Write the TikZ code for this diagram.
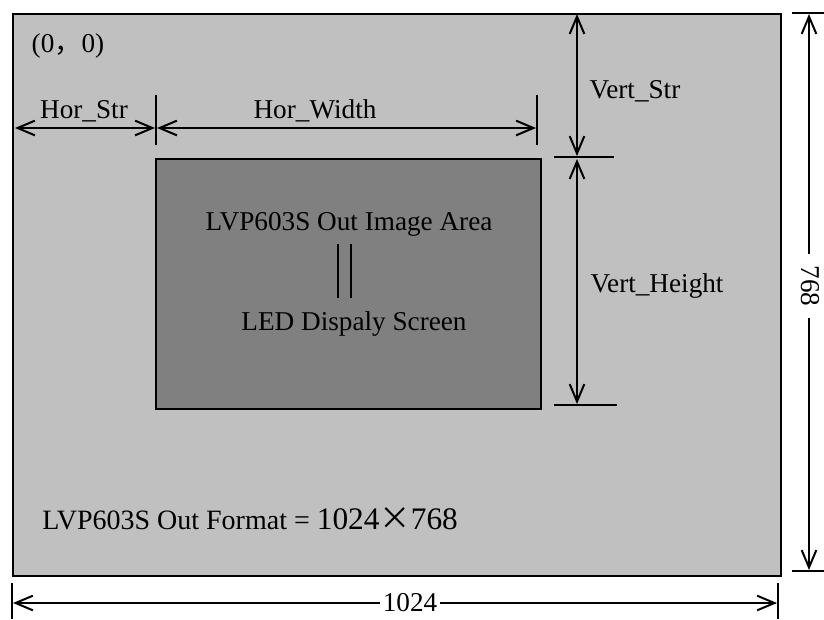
\documentclass[tikz,border=0pt]{standalone}
\usepackage{fontspec}
\setmainfont{Liberation Serif}
\newfontfamily\cjk{Noto Sans CJK SC}
\usetikzlibrary{arrows.meta}
\definecolor{outerfill}{HTML}{C0C0C0}
\definecolor{innerfill}{HTML}{808080}
\begin{document}
\begin{tikzpicture}[x=0.75pt,y=-0.75pt,
  lbl/.style={font=\fontsize{20.4}{24}\selectfont, inner sep=0pt, anchor=base, text=black},
  dimline/.style={line width=1.5pt, {Straight Barb[length=13pt,width=11pt,line width=1.5pt]}-{Straight Barb[length=13pt,width=11pt,line width=1.5pt]}},
  tickline/.style={line width=1.2pt},
  cut/.style={fill=white, inner xsep=4pt, inner ysep=1pt}]
\useasboundingbox (0,0) rectangle (824,619);
% outer area
\node[draw=black, line width=1.5pt, fill=outerfill, minimum width=768*0.75pt, minimum height=562*0.75pt, inner sep=0pt, anchor=north west] (outer) at (12,13) {};
% inner area
\node[draw=black, line width=1.2pt, fill=innerfill, minimum width=385*0.75pt, minimum height=250*0.75pt, inner sep=0pt, anchor=north west] (inner) at (155,158) {};

% texts
\node[lbl] (origin) at (68,52) {(0{\cjk ，}0)};
\node[lbl] (horstr) at (84,118) {Hor\_Str};
\node[lbl] (horwidth) at (315,118) {Hor\_Width};
\node[lbl] (vertstr) at (635,98) {Vert\_Str};
\node[lbl] (vertheight) at (657,292) {Vert\_Height};
\node[lbl] (area) at (349,230) {LVP603S Out Image Area};
\node[lbl] (led) at (354,330) {LED Dispaly Screen};
\node[lbl, anchor=base west, font=\fontsize{21}{24}\selectfont] (format) at (42,529) {LVP603S Out Format = {\fontsize{23.5}{26}\selectfont 1024{\cjk ×}768}};

% equivalence sign
\coordinate (eqa1) at (338,244); \coordinate (eqa2) at (338,298);
\coordinate (eqb1) at (351,244); \coordinate (eqb2) at (351,298);
\draw[line width=1.1pt] (eqa1) -- (eqa2);
\draw[line width=1.1pt] (eqb1) -- (eqb2);

% horizontal dimension ticks
\coordinate (t1a) at (156,95); \coordinate (t1b) at (156,145);
\coordinate (t2a) at (537,95); \coordinate (t2b) at (537,145);
\draw[tickline] (t1a) -- (t1b);
\draw[tickline] (t2a) -- (t2b);
\coordinate (hs1) at (15,128); \coordinate (hs2) at (155,128);
\coordinate (hw1) at (157,128); \coordinate (hw2) at (536,128);
\draw[dimline] (hs1) -- (hs2);
\draw[dimline] (hw1) -- (hw2);

% vertical dimension ticks
\coordinate (v1a) at (554,157); \coordinate (v1b) at (614,157);
\coordinate (v2a) at (554,405); \coordinate (v2b) at (617,405);
\draw[tickline] (v1a) -- (v1b);
\draw[tickline] (v2a) -- (v2b);
\coordinate (vs1) at (577,14); \coordinate (vs2) at (577,156);
\coordinate (vh1) at (577,159); \coordinate (vh2) at (577,404);
\draw[dimline] (vs1) -- (vs2);
\draw[dimline] (vh1) -- (vh2);

% total height 768
\coordinate (r1a) at (792,13); \coordinate (r1b) at (824,13);
\coordinate (r2a) at (792,571); \coordinate (r2b) at (824,571);
\draw[tickline] (r1a) -- (r1b);
\draw[tickline] (r2a) -- (r2b);
\coordinate (rt) at (809,14); \coordinate (rb) at (809,570);
\draw[dimline] (rt) -- (rb);
\node[lbl, cut, anchor=center, rotate=-90, inner xsep=9pt] (h768) at (810,286) {768};

% total width 1024
\coordinate (b1a) at (12,583); \coordinate (b1b) at (12,619);
\coordinate (b2a) at (778,583); \coordinate (b2b) at (778,619);
\draw[tickline] (b1a) -- (b1b);
\draw[tickline] (b2a) -- (b2b);
\coordinate (bl) at (13,603); \coordinate (br) at (777,603);
\draw[dimline] (bl) -- (br);
\node[lbl, cut, anchor=center, inner xsep=2pt] (w1024) at (410,603) {1024};
\end{tikzpicture}
\end{document}
